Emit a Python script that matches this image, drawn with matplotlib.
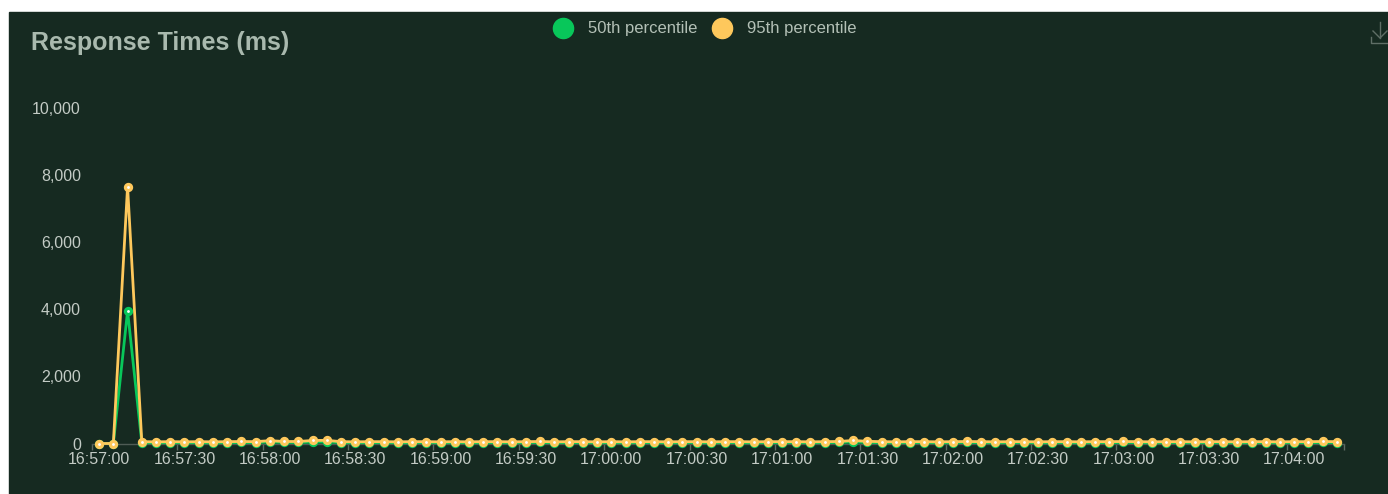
import numpy as np
import pandas as pd
import matplotlib
matplotlib.use('Agg')
import matplotlib.pyplot as plt
from matplotlib.lines import Line2D
from matplotlib.patches import Rectangle

plt.rcParams['font.family'] = ['Liberation Sans', 'DejaVu Sans']

# categories: one sample every 5 seconds starting 16:57:00
times = pd.date_range('2024-01-01 16:57:00', periods=88, freq='5s')
labels = times.strftime('%H:%M:%S').tolist()

p50 = [0, 0, 3950, 25, 20, 25, 20, 25, 20, 25,
       30, 25, 45, 30, 30, 40, 45, 25, 20, 25,
       25, 20, 25, 25, 20, 25, 20, 25, 25, 20,
       25, 30, 20, 25, 25, 20, 25, 20, 25, 25,
       20, 25, 25, 20, 25, 25, 20, 25, 25, 25,
       20, 25, 30, 45, 30, 25, 20, 25, 25, 20,
       25, 30, 25, 20, 25, 25, 20, 25, 25, 20,
       25, 25, 30, 25, 20, 25, 25, 20, 25, 25,
       20, 25, 25, 20, 25, 25, 30, 25]

p95 = [0, 0, 7660, 55, 50, 55, 50, 55, 50, 55,
       60, 55, 85, 60, 60, 90, 95, 55, 50, 55,
       55, 50, 55, 55, 50, 55, 50, 55, 55, 50,
       55, 60, 50, 55, 55, 50, 55, 50, 55, 55,
       50, 55, 55, 50, 55, 55, 50, 55, 55, 55,
       50, 55, 60, 90, 65, 55, 50, 55, 55, 50,
       55, 60, 55, 50, 55, 55, 50, 55, 55, 50,
       55, 55, 60, 55, 50, 55, 55, 50, 55, 55,
       50, 55, 55, 50, 55, 55, 60, 55]

series_names = ['50th percentile', '95th percentile']
series_colors = ['#08c75a', '#fec85c']

bg = '#162a21'
W, H = 1388, 494

fig = plt.figure(figsize=(W / 100, H / 100), dpi=100, facecolor='white')
fig.add_artist(Rectangle((9 / W, 0), 1 - 9 / W, 1 - 12 / H,
                         transform=fig.transFigure, color=bg, zorder=-5))

ax = fig.add_axes([92 / W, (H - 443.5) / H, (1344 - 92) / W, (443.5 - 108) / H])
ax.set_facecolor('none')

x = np.arange(len(labels))
for vals, col in zip([p50, p95], series_colors):
    ax.plot(x, vals, color=col, lw=2.0, marker='o', ms=4.4, mfc='white',
            mec=col, mew=2.3, clip_on=False, zorder=3)

ax.set_xlim(-0.5, len(labels) - 0.5)
ax.set_ylim(0, 10000)
ax.set_yticks(np.arange(0, 10001, 2000))
ax.set_yticklabels([f'{v:,}' for v in range(0, 10001, 2000)])

step = 6
ax.set_xticks(x[::step])
ax.set_xticklabels(labels[::step])
ax.set_xticks(np.append(np.arange(-0.5, len(labels), step), len(labels) - 0.5), minor=True)

ax.tick_params(axis='both', which='major', length=0, labelsize=11.5, colors='#c3cbc5')
ax.tick_params(axis='y', pad=8)
ax.tick_params(axis='x', pad=6)
ax.tick_params(axis='x', which='minor', length=4, width=1, color='#5d6a63', direction='out')

for s in ['top', 'right', 'left']:
    ax.spines[s].set_visible(False)
ax.spines['bottom'].set_color('#4f5c55')
ax.spines['bottom'].set_linewidth(1)

# title
fig.text(31 / W, 1 - 50 / H, 'Response Times (ms)', fontsize=18, fontweight='bold',
         color='#a9b9ae', va='baseline', ha='left')

# legend
leg_x = [563, 722]
for lx, name, col in zip(leg_x, series_names, series_colors):
    fig.add_artist(Line2D([lx / W], [1 - 28.5 / H], marker='o', ms=14.5, color=col,
                          mec=col, transform=fig.transFigure))
    fig.text((lx + 25) / W, 1 - 33 / H, name, fontsize=12, color='#b3c0b6',
             va='baseline', ha='left')

# download icon
icol = '#5f6e66'
def px(xs, ys):
    return [v / W for v in xs], [1 - v / H for v in ys]
for xs, ys in [([1380, 1380], [22, 38]), ([1373, 1380, 1387], [31, 38, 31]),
               ([1371, 1371, 1388], [37, 43, 43])]:
    fx, fy = px(xs, ys)
    fig.add_artist(Line2D(fx, fy, color=icol, lw=1, transform=fig.transFigure))

fig.savefig('out.png', dpi=100, facecolor=fig.get_facecolor())
